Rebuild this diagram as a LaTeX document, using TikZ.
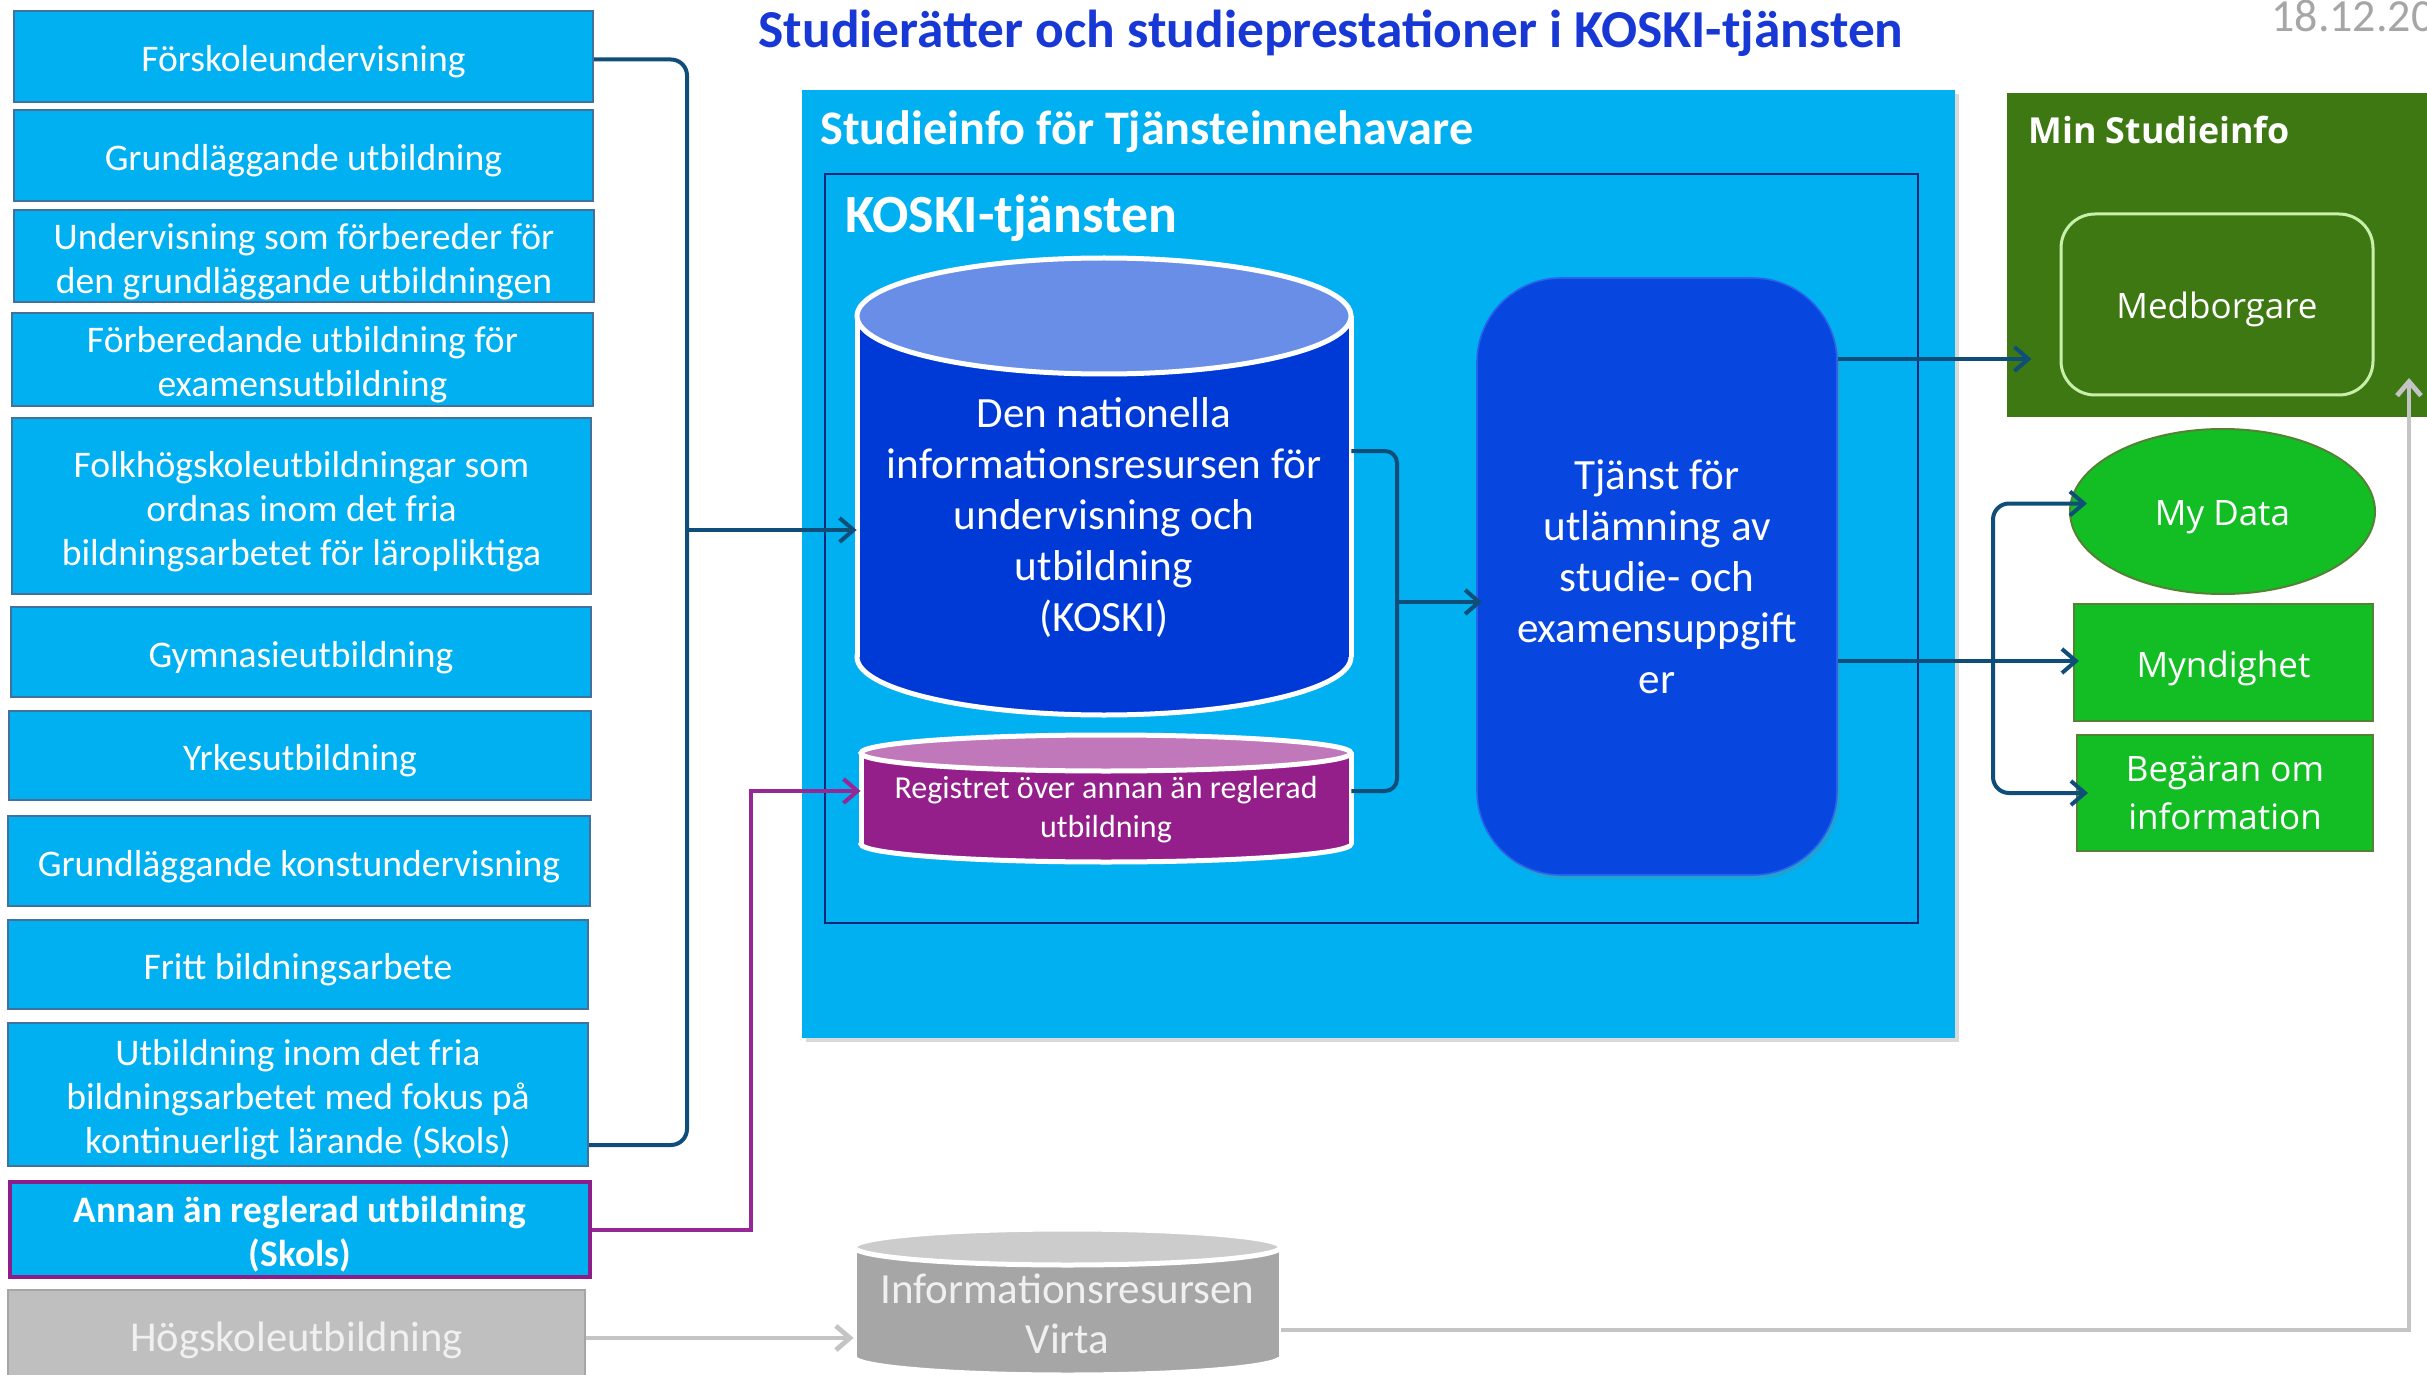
\documentclass[tikz,border=0pt]{standalone}
\usepackage{fontspec}
\setmainfont{Carlito}
\newfontfamily\osans{Open Sans}
\usetikzlibrary{arrows.meta,shadows,calc,shapes.geometric}

\definecolor{cyanbox}{RGB}{0,176,240}
\definecolor{boxedge}{RGB}{65,113,156}
\definecolor{titleblue}{RGB}{24,56,214}
\definecolor{conblue}{RGB}{16,78,122}
\definecolor{purpleline}{RGB}{150,40,150}
\definecolor{purpleedge}{RGB}{140,30,140}
\definecolor{grayline}{RGB}{196,196,196}
\definecolor{kbody}{RGB}{0,58,214}
\definecolor{ktop}{RGB}{104,142,232}
\definecolor{pbody}{RGB}{148,30,138}
\definecolor{ptop}{RGB}{192,120,186}
\definecolor{vbody}{RGB}{166,166,166}
\definecolor{vtop}{RGB}{204,204,204}
\definecolor{tjblue}{RGB}{8,70,224}
\definecolor{tjedge}{RGB}{40,100,235}
\definecolor{darkgreen}{RGB}{62,120,18}
\definecolor{medline}{RGB}{200,240,170}
\definecolor{brightgreen}{RGB}{19,190,37}
\definecolor{greenedge}{RGB}{84,130,53}
\definecolor{hsgray}{RGB}{191,191,191}
\definecolor{hsedge}{RGB}{166,166,166}
\definecolor{hstext}{RGB}{240,240,240}
\definecolor{datecol}{RGB}{166,166,166}
\definecolor{innerframe}{RGB}{10,40,120}

\newcommand{\tstrut}{\rule{0pt}{18.3pt}}

\tikzset{
  lowered/.style={execute at begin node={\rule{0pt}{#1}}},
  lbox/.style={draw=boxedge, line width=1pt, fill=cyanbox, inner sep=0pt, text=white,
    align=center, font=\fontsize{18.8pt}{22pt}\selectfont},
  arr/.style={-{Straight Barb[length=7pt,width=12pt]}},
  conn/.style={draw=conblue, line width=2pt},
  pconn/.style={draw=purpleline, line width=2pt},
  gconn/.style={draw=grayline, line width=2.4pt},
  cyltext/.style={inner sep=0pt, text=white, align=center},
  gbox/.style={draw=greenedge, line width=1pt, fill=brightgreen, inner sep=0pt, text=white,
    align=center, font=\osans\fontsize{17.5pt}{24pt}\selectfont},
  heading/.style={anchor=base west, inner sep=0pt, text=white},
}

\begin{document}
\begin{tikzpicture}[x=0.5pt,y=-0.5pt]
\path[use as bounding box] (0,0) rectangle (2427,1375);
\clip (0,0) rectangle (2427,1375);

% title and date
\node[anchor=base, inner sep=0pt, text=titleblue, font=\bfseries\fontsize{26.7pt}{30pt}\selectfont] (title) at (1331,48)
  {Studierätter och studieprestationer i KOSKI-tjänsten};
\node[anchor=base west, inner sep=0pt, text=datecol, font=\fontsize{23pt}{26pt}\selectfont] (date) at (2271,32) {18.12.20};

% left boxes
\node[lbox, minimum width=289.5pt, minimum height=45.5pt] (b1) at (303.5,56.5) {\tstrut Förskoleundervisning};
\node[lbox, minimum width=289.5pt, minimum height=45.5pt] (b2) at (303.5,155.5) {\tstrut Grundläggande utbildning};
\node[lbox, minimum width=290pt, minimum height=46pt] (b3) at (304,256) {\tstrut Undervisning som förbereder för\\den grundläggande utbildningen};
\node[lbox, minimum width=290.5pt, minimum height=46.5pt] (b4) at (302.5,359.5) {\tstrut Förberedande utbildning för\\examensutbildning};
\node[lbox, minimum width=289.5pt, minimum height=88pt] (b5) at (301.5,506) {\tstrut Folkhögskoleutbildningar som\\ordnas inom det fria\\bildningsarbetet för läropliktiga};
\node[lbox, minimum width=290pt, minimum height=45pt] (b6) at (301,652) {\tstrut Gymnasieutbildning};
\node[lbox, minimum width=291pt, minimum height=44.5pt] (b7) at (300,755.5) {\tstrut Yrkesutbildning};
\node[lbox, minimum width=291pt, minimum height=45pt] (b8) at (299,861) {\tstrut Grundläggande konstundervisning};
\node[lbox, minimum width=290pt, minimum height=44.5pt] (b9) at (298,964.5) {\tstrut Fritt bildningsarbete};
\node[lbox, minimum width=290pt, minimum height=71.5pt] (b10) at (298,1094.5) {\tstrut Utbildning inom det fria\\bildningsarbetet med fokus på\\kontinuerligt lärande (Skols)};
\node[lbox, draw=purpleedge, line width=1.6pt, font=\bfseries\fontsize{18.7pt}{22pt}\selectfont,
  minimum width=290pt, minimum height=47.5pt] (b11) at (300,1229.5) {\tstrut Annan än reglerad utbildning\\(Skols)};
\node[lbox, draw=hsedge, fill=hsgray, text=hstext, font=\fontsize{21.3pt}{24pt}\selectfont,
  minimum width=288.5pt, minimum height=48pt] (b12) at (296.5,1338) {\rule{0pt}{17pt}Högskoleutbildning};

% outer service box
\node[inner sep=0pt, fill=cyanbox, minimum width=576.5pt, minimum height=474pt,
  drop shadow={shadow xshift=2pt,shadow yshift=-2pt,opacity=.3}] (outer) at (1378.5,564) {};
\node[heading, font=\bfseries\fontsize{24.1pt}{28pt}\selectfont] (outertitle) at (820,145)
  {Studieinfo för Tjänsteinnehavare};
\node[inner sep=0pt, draw=innerframe, line width=1pt, minimum width=546.5pt, minimum height=374.5pt] (frame) at (1371.5,548.5) {};
\node[heading, font=\bfseries\fontsize{26.9pt}{30pt}\selectfont] (frametitle) at (845,233)
  {KOSKI-tjänsten};

% KOSKI cylinder
\filldraw[fill=kbody, draw=white, line width=2.5pt] (1104,657) ellipse [x radius=123.5pt, y radius=29pt];
\fill[kbody] (857,316) rectangle (1351,657);
\draw[white, line width=2.5pt] (857,316) -- (857,657) (1351,316) -- (1351,657);
\filldraw[fill=ktop, draw=white, line width=2.5pt] (1104,316) ellipse [x radius=123.5pt, y radius=29pt];
\node[cyltext, minimum width=247pt, minimum height=141pt, font=\fontsize{21.6pt}{25.5pt}\selectfont] (koski) at (1104,517)
  {Den nationella\\informationsresursen för\\undervisning och\\utbildning\\(KOSKI)};

% register cylinder
\filldraw[fill=pbody, draw=white, line width=2.5pt] (1106,844) ellipse [x radius=122.5pt, y radius=9pt];
\fill[pbody] (861,753) rectangle (1351,844);
\draw[white, line width=2.5pt] (861,753) -- (861,844) (1351,753) -- (1351,844);
\filldraw[fill=ptop, draw=white, line width=2.5pt] (1106,753) ellipse [x radius=122.5pt, y radius=9pt];
\node[cyltext, minimum width=245pt, minimum height=48.5pt, font=\fontsize{16pt}{19.5pt}\selectfont] (reg) at (1106,810)
  {Registret över annan än reglerad\\utbildning};

% delivery service
\node[inner sep=0pt, rounded corners=42pt, fill=tjblue, draw=tjedge, line width=0.8pt,
  minimum width=180pt, minimum height=298.5pt,
  drop shadow={shadow xshift=1.5pt,shadow yshift=-2pt,opacity=.25},
  text=white, align=center, font=\fontsize{21.6pt}{25.5pt}\selectfont] (tj) at (1657,576.5)
  {Tjänst för\\utlämning av\\studie- och\\examensuppgift\\er};

% Virta cylinder
\filldraw[fill=vbody, draw=white, line width=2.5pt] (1067.5,1357) ellipse [x radius=106.75pt, y radius=9pt];
\fill[vbody] (854,1247) rectangle (1281,1357);
\draw[white, line width=2.5pt] (854,1247) -- (854,1357) (1281,1247) -- (1281,1357);
\filldraw[fill=vtop, draw=white, line width=2.5pt] (1067.5,1247) ellipse [x radius=106.75pt, y radius=9pt];
\node[cyltext, text=hstext, minimum width=213.5pt, minimum height=55pt, font=\fontsize{21.5pt}{25pt}\selectfont] (virta) at (1067.5,1314)
  {Informationsresursen\\Virta};

% Min Studieinfo
\node[inner sep=0pt, fill=darkgreen, minimum width=216.5pt, minimum height=162pt] (minbox) at (2223.5,255) {};
\node[heading, font=\osans\bfseries\fontsize{17.9pt}{21pt}\selectfont] (mintitle) at (2028,144)
  {Min Studieinfo};
\node[inner sep=0pt, rounded corners=17pt, draw=medline, line width=1.5pt, fill=darkgreen,
  minimum width=156pt, minimum height=90.5pt, lowered=18.3pt,
  text=white, font=\osans\fontsize{17.5pt}{21pt}\selectfont] (med) at (2217,304.5) {Medborgare};

% recipients
\node[ellipse, draw=greenedge, line width=1pt, fill=brightgreen, minimum width=152.5pt, minimum height=82.5pt,
  inner sep=0pt, lowered=18.5pt, text=white, font=\osans\fontsize{17.5pt}{21pt}\selectfont] (mydata) at (2222.5,511.5) {My Data};
\node[gbox, minimum width=149.5pt, minimum height=58.5pt, lowered=19pt] (myn) at (2223.5,662.5) {Myndighet};
\node[gbox, minimum width=148pt, minimum height=58pt] (beg) at (2225,793) {Begäran om\\information};

% connectors
\coordinate (lb) at (687,530);
\coordinate (b1start) at ($(b1.east)+(0,3)$);
\coordinate (b10end) at ($(b10.south east)+(0,-22)$);
\draw[conn, rounded corners=8pt] (b1start) -| (lb) |- (b10end);
\draw[conn, arr] (lb) -- (lb -| koski.west);

\coordinate (pc) at (751,791);
\draw[pconn, arr] (b11.east) -| (pc) -- (pc -| reg.west);

\coordinate (rbt) at (1397,451);
\coordinate (rb) at (1397,602);
\coordinate (rbb) at (1397,791);
\draw[conn, rounded corners=6pt] (rbt -| koski.east) -- (rbt) -- (rbb) -- (rbb -| reg.east);
\draw[conn, arr] (rb) -- ($(rb -| tj.west)+(6,0)$);

\coordinate (ym) at (1700,359);
\draw[conn, arr, shorten >=14pt] (ym -| tj.east) -- (ym -| med.west);

\coordinate (br) at (1993,661);
\draw[conn, arr] (br -| tj.east) -- ($(br -| myn.west)+(6,0)$);
\draw[conn, arr, rounded corners=8pt] (br) |- ($(mydata.west)+(18,-8)$);
\draw[conn, arr, rounded corners=8pt] (br) |- ($(beg.west)+(12,0)$);

\draw[gconn, arr] (b12.east) -- (b12.east -| virta.west);
\coordinate (yg) at (1300,1330);
\coordinate (gtop) at (2409,378);
\draw[gconn, arr] (yg -| virta.east) -| (gtop);
\end{tikzpicture}
\end{document}
